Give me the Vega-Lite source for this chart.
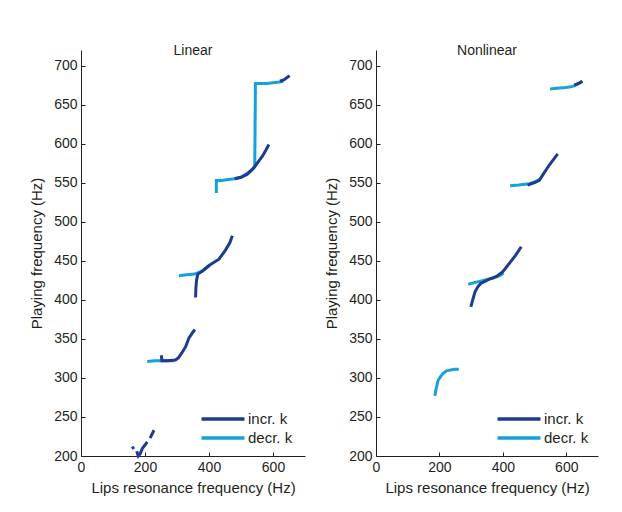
{
  "$schema": "https://vega.github.io/schema/vega-lite/v6.json",
  "padding": {"left": 29, "top": 44, "right": 5, "bottom": 5},
  "spacing": 19,
  "data": {"values": [
    {"p": "Linear", "s": "L1", "k": "decr. k", "i": 1, "x": 423, "y": 537},
    {"p": "Linear", "s": "L1", "k": "decr. k", "i": 2, "x": 423, "y": 553},
    {"p": "Linear", "s": "L1", "k": "decr. k", "i": 3, "x": 440, "y": 553},
    {"p": "Linear", "s": "L1", "k": "decr. k", "i": 4, "x": 460, "y": 554},
    {"p": "Linear", "s": "L1", "k": "decr. k", "i": 5, "x": 480, "y": 555},
    {"p": "Linear", "s": "L1", "k": "decr. k", "i": 6, "x": 500, "y": 557},
    {"p": "Linear", "s": "L1", "k": "decr. k", "i": 7, "x": 520, "y": 562},
    {"p": "Linear", "s": "L1", "k": "decr. k", "i": 8, "x": 535, "y": 567},
    {"p": "Linear", "s": "L1", "k": "decr. k", "i": 9, "x": 543, "y": 571},
    {"p": "Linear", "s": "L1", "k": "decr. k", "i": 10, "x": 544, "y": 620},
    {"p": "Linear", "s": "L1", "k": "decr. k", "i": 11, "x": 545, "y": 677},
    {"p": "Linear", "s": "L1", "k": "decr. k", "i": 12, "x": 560, "y": 677},
    {"p": "Linear", "s": "L1", "k": "decr. k", "i": 13, "x": 580, "y": 677},
    {"p": "Linear", "s": "L1", "k": "decr. k", "i": 14, "x": 600, "y": 678},
    {"p": "Linear", "s": "L1", "k": "decr. k", "i": 15, "x": 620, "y": 679},
    {"p": "Linear", "s": "L1", "k": "decr. k", "i": 16, "x": 632, "y": 680},
    {"p": "Linear", "s": "L4", "k": "decr. k", "i": 1, "x": 306, "y": 431},
    {"p": "Linear", "s": "L4", "k": "decr. k", "i": 2, "x": 330, "y": 432},
    {"p": "Linear", "s": "L4", "k": "decr. k", "i": 3, "x": 355, "y": 433},
    {"p": "Linear", "s": "L4", "k": "decr. k", "i": 4, "x": 375, "y": 436},
    {"p": "Linear", "s": "L4", "k": "decr. k", "i": 5, "x": 392, "y": 441},
    {"p": "Linear", "s": "L4", "k": "decr. k", "i": 6, "x": 402, "y": 444},
    {"p": "Linear", "s": "L5", "k": "decr. k", "i": 1, "x": 207, "y": 321},
    {"p": "Linear", "s": "L5", "k": "decr. k", "i": 2, "x": 230, "y": 322},
    {"p": "Linear", "s": "L5", "k": "decr. k", "i": 3, "x": 260, "y": 322},
    {"p": "Linear", "s": "L5", "k": "decr. k", "i": 4, "x": 290, "y": 322},
    {"p": "Linear", "s": "L2", "k": "incr. k", "i": 1, "x": 622, "y": 680},
    {"p": "Linear", "s": "L2", "k": "incr. k", "i": 2, "x": 635, "y": 682},
    {"p": "Linear", "s": "L2", "k": "incr. k", "i": 3, "x": 645, "y": 685},
    {"p": "Linear", "s": "L2", "k": "incr. k", "i": 4, "x": 652, "y": 687},
    {"p": "Linear", "s": "L3", "k": "incr. k", "i": 1, "x": 480, "y": 555},
    {"p": "Linear", "s": "L3", "k": "incr. k", "i": 2, "x": 500, "y": 557},
    {"p": "Linear", "s": "L3", "k": "incr. k", "i": 3, "x": 520, "y": 561},
    {"p": "Linear", "s": "L3", "k": "incr. k", "i": 4, "x": 540, "y": 569},
    {"p": "Linear", "s": "L3", "k": "incr. k", "i": 5, "x": 556, "y": 578},
    {"p": "Linear", "s": "L3", "k": "incr. k", "i": 6, "x": 567, "y": 584},
    {"p": "Linear", "s": "L3", "k": "incr. k", "i": 7, "x": 578, "y": 592},
    {"p": "Linear", "s": "L3", "k": "incr. k", "i": 8, "x": 587, "y": 599},
    {"p": "Linear", "s": "L6", "k": "incr. k", "i": 1, "x": 358, "y": 403},
    {"p": "Linear", "s": "L6", "k": "incr. k", "i": 2, "x": 359, "y": 415},
    {"p": "Linear", "s": "L6", "k": "incr. k", "i": 3, "x": 361, "y": 425},
    {"p": "Linear", "s": "L6", "k": "incr. k", "i": 4, "x": 365, "y": 433},
    {"p": "Linear", "s": "L6", "k": "incr. k", "i": 5, "x": 380, "y": 437},
    {"p": "Linear", "s": "L6", "k": "incr. k", "i": 6, "x": 400, "y": 444},
    {"p": "Linear", "s": "L6", "k": "incr. k", "i": 7, "x": 431, "y": 452},
    {"p": "Linear", "s": "L6", "k": "incr. k", "i": 8, "x": 452, "y": 464},
    {"p": "Linear", "s": "L6", "k": "incr. k", "i": 9, "x": 465, "y": 473},
    {"p": "Linear", "s": "L6", "k": "incr. k", "i": 10, "x": 473, "y": 482},
    {"p": "Linear", "s": "L7", "k": "incr. k", "i": 1, "x": 251, "y": 329},
    {"p": "Linear", "s": "L7", "k": "incr. k", "i": 2, "x": 253, "y": 322},
    {"p": "Linear", "s": "L7", "k": "incr. k", "i": 3, "x": 270, "y": 322},
    {"p": "Linear", "s": "L7", "k": "incr. k", "i": 4, "x": 295, "y": 323},
    {"p": "Linear", "s": "L7", "k": "incr. k", "i": 5, "x": 305, "y": 326},
    {"p": "Linear", "s": "L7", "k": "incr. k", "i": 6, "x": 315, "y": 332},
    {"p": "Linear", "s": "L7", "k": "incr. k", "i": 7, "x": 327, "y": 340},
    {"p": "Linear", "s": "L7", "k": "incr. k", "i": 8, "x": 337, "y": 351},
    {"p": "Linear", "s": "L7", "k": "incr. k", "i": 9, "x": 347, "y": 357},
    {"p": "Linear", "s": "L7", "k": "incr. k", "i": 10, "x": 356, "y": 362},
    {"p": "Linear", "s": "L8", "k": "incr. k", "i": 1, "x": 160, "y": 212},
    {"p": "Linear", "s": "L8", "k": "incr. k", "i": 2, "x": 165, "y": 209},
    {"p": "Linear", "s": "L9", "k": "incr. k", "i": 1, "x": 174, "y": 206},
    {"p": "Linear", "s": "L9", "k": "incr. k", "i": 2, "x": 179, "y": 200},
    {"p": "Linear", "s": "L9", "k": "incr. k", "i": 3, "x": 185, "y": 203},
    {"p": "Linear", "s": "L9", "k": "incr. k", "i": 4, "x": 192, "y": 210},
    {"p": "Linear", "s": "L9", "k": "incr. k", "i": 5, "x": 200, "y": 214},
    {"p": "Linear", "s": "L9", "k": "incr. k", "i": 6, "x": 207, "y": 218},
    {"p": "Linear", "s": "L10", "k": "incr. k", "i": 1, "x": 216, "y": 223},
    {"p": "Linear", "s": "L10", "k": "incr. k", "i": 2, "x": 222, "y": 228},
    {"p": "Linear", "s": "L10", "k": "incr. k", "i": 3, "x": 228, "y": 233},
    {"p": "Nonlinear", "s": "N1", "k": "decr. k", "i": 1, "x": 549, "y": 670},
    {"p": "Nonlinear", "s": "N1", "k": "decr. k", "i": 2, "x": 570, "y": 671},
    {"p": "Nonlinear", "s": "N1", "k": "decr. k", "i": 3, "x": 589, "y": 671.5},
    {"p": "Nonlinear", "s": "N1", "k": "decr. k", "i": 4, "x": 610, "y": 672.5},
    {"p": "Nonlinear", "s": "N1", "k": "decr. k", "i": 5, "x": 625, "y": 674},
    {"p": "Nonlinear", "s": "N1", "k": "decr. k", "i": 6, "x": 640, "y": 677},
    {"p": "Nonlinear", "s": "N1", "k": "decr. k", "i": 7, "x": 650, "y": 680},
    {"p": "Nonlinear", "s": "N2", "k": "decr. k", "i": 1, "x": 423, "y": 546},
    {"p": "Nonlinear", "s": "N2", "k": "decr. k", "i": 2, "x": 450, "y": 547},
    {"p": "Nonlinear", "s": "N2", "k": "decr. k", "i": 3, "x": 484, "y": 548.7},
    {"p": "Nonlinear", "s": "N2", "k": "decr. k", "i": 4, "x": 500, "y": 551},
    {"p": "Nonlinear", "s": "N2", "k": "decr. k", "i": 5, "x": 516, "y": 554},
    {"p": "Nonlinear", "s": "N3", "k": "decr. k", "i": 1, "x": 291, "y": 420},
    {"p": "Nonlinear", "s": "N3", "k": "decr. k", "i": 2, "x": 310, "y": 422},
    {"p": "Nonlinear", "s": "N3", "k": "decr. k", "i": 3, "x": 330, "y": 424},
    {"p": "Nonlinear", "s": "N3", "k": "decr. k", "i": 4, "x": 350, "y": 426},
    {"p": "Nonlinear", "s": "N3", "k": "decr. k", "i": 5, "x": 370, "y": 428},
    {"p": "Nonlinear", "s": "N3", "k": "decr. k", "i": 6, "x": 390, "y": 431},
    {"p": "Nonlinear", "s": "N3", "k": "decr. k", "i": 7, "x": 402, "y": 434},
    {"p": "Nonlinear", "s": "N4", "k": "decr. k", "i": 1, "x": 185.5, "y": 277},
    {"p": "Nonlinear", "s": "N4", "k": "decr. k", "i": 2, "x": 190, "y": 287},
    {"p": "Nonlinear", "s": "N4", "k": "decr. k", "i": 3, "x": 196, "y": 297},
    {"p": "Nonlinear", "s": "N4", "k": "decr. k", "i": 4, "x": 204, "y": 302},
    {"p": "Nonlinear", "s": "N4", "k": "decr. k", "i": 5, "x": 212, "y": 306},
    {"p": "Nonlinear", "s": "N4", "k": "decr. k", "i": 6, "x": 222, "y": 309},
    {"p": "Nonlinear", "s": "N4", "k": "decr. k", "i": 7, "x": 233, "y": 310},
    {"p": "Nonlinear", "s": "N4", "k": "decr. k", "i": 8, "x": 247, "y": 311},
    {"p": "Nonlinear", "s": "N4", "k": "decr. k", "i": 9, "x": 261, "y": 311},
    {"p": "Nonlinear", "s": "N5", "k": "incr. k", "i": 1, "x": 625, "y": 675},
    {"p": "Nonlinear", "s": "N5", "k": "incr. k", "i": 2, "x": 640, "y": 677.5},
    {"p": "Nonlinear", "s": "N5", "k": "incr. k", "i": 3, "x": 651, "y": 680},
    {"p": "Nonlinear", "s": "N6", "k": "incr. k", "i": 1, "x": 478, "y": 547},
    {"p": "Nonlinear", "s": "N6", "k": "incr. k", "i": 2, "x": 500, "y": 550},
    {"p": "Nonlinear", "s": "N6", "k": "incr. k", "i": 3, "x": 515, "y": 553},
    {"p": "Nonlinear", "s": "N6", "k": "incr. k", "i": 4, "x": 526, "y": 560},
    {"p": "Nonlinear", "s": "N6", "k": "incr. k", "i": 5, "x": 537, "y": 567},
    {"p": "Nonlinear", "s": "N6", "k": "incr. k", "i": 6, "x": 547, "y": 573},
    {"p": "Nonlinear", "s": "N6", "k": "incr. k", "i": 7, "x": 560, "y": 580},
    {"p": "Nonlinear", "s": "N6", "k": "incr. k", "i": 8, "x": 573, "y": 587},
    {"p": "Nonlinear", "s": "N7", "k": "incr. k", "i": 1, "x": 299, "y": 391},
    {"p": "Nonlinear", "s": "N7", "k": "incr. k", "i": 2, "x": 305, "y": 400},
    {"p": "Nonlinear", "s": "N7", "k": "incr. k", "i": 3, "x": 312, "y": 410},
    {"p": "Nonlinear", "s": "N7", "k": "incr. k", "i": 4, "x": 320, "y": 416},
    {"p": "Nonlinear", "s": "N7", "k": "incr. k", "i": 5, "x": 330, "y": 421},
    {"p": "Nonlinear", "s": "N7", "k": "incr. k", "i": 6, "x": 345, "y": 424},
    {"p": "Nonlinear", "s": "N7", "k": "incr. k", "i": 7, "x": 360, "y": 427},
    {"p": "Nonlinear", "s": "N7", "k": "incr. k", "i": 8, "x": 380, "y": 430},
    {"p": "Nonlinear", "s": "N7", "k": "incr. k", "i": 9, "x": 400, "y": 436},
    {"p": "Nonlinear", "s": "N7", "k": "incr. k", "i": 10, "x": 421, "y": 447},
    {"p": "Nonlinear", "s": "N7", "k": "incr. k", "i": 11, "x": 440, "y": 457},
    {"p": "Nonlinear", "s": "N7", "k": "incr. k", "i": 12, "x": 458, "y": 468}
  ]},
  "hconcat": [
    {
      "title": "Linear",
      "width": 224,
      "height": 406,
      "transform": [{"filter": "datum.p === 'Linear'"}],
      "mark": {"type": "line", "strokeWidth": 3},
      "encoding": {
        "x": {"field": "x", "type": "quantitative", "scale": {"domain": [0, 700], "nice": false},
              "axis": {"values": [0, 200, 400, 600], "title": "Lips resonance frequency (Hz)"}},
        "y": {"field": "y", "type": "quantitative", "scale": {"domain": [200, 720], "nice": false, "zero": false},
              "axis": {"values": [200, 250, 300, 350, 400, 450, 500, 550, 600, 650, 700], "title": "Playing frequency (Hz)"}},
        "color": {"field": "k", "type": "nominal",
                  "scale": {"domain": ["incr. k", "decr. k"], "range": ["#1d3c8e", "#16a0dc"]},
                  "legend": {"orient": "none", "legendX": 133, "legendY": 360, "title": null}},
        "detail": {"field": "s"},
        "order": {"field": "i", "type": "quantitative"}
      }
    },
    {
      "title": "Nonlinear",
      "width": 222,
      "height": 406,
      "transform": [{"filter": "datum.p === 'Nonlinear'"}],
      "mark": {"type": "line", "strokeWidth": 3},
      "encoding": {
        "x": {"field": "x", "type": "quantitative", "scale": {"domain": [0, 700], "nice": false},
              "axis": {"values": [0, 200, 400, 600], "title": "Lips resonance frequency (Hz)"}},
        "y": {"field": "y", "type": "quantitative", "scale": {"domain": [200, 720], "nice": false, "zero": false},
              "axis": {"values": [200, 250, 300, 350, 400, 450, 500, 550, 600, 650, 700], "title": "Playing frequency (Hz)"}},
        "color": {"field": "k", "type": "nominal",
                  "scale": {"domain": ["incr. k", "decr. k"], "range": ["#1d3c8e", "#16a0dc"]},
                  "legend": {"orient": "none", "legendX": 134, "legendY": 360, "title": null}},
        "detail": {"field": "s"},
        "order": {"field": "i", "type": "quantitative"}
      }
    }
  ],
  "resolve": {"legend": {"color": "independent"}},
  "config": {
    "font": "Liberation Sans",
    "view": {"stroke": null},
    "title": {"fontSize": 14, "fontWeight": "normal", "color": "#231f20", "anchor": "middle", "offset": -8, "font": "Liberation Sans"},
    "axis": {
      "grid": false,
      "domainColor": "#231f20",
      "domainWidth": 1,
      "tickColor": "#231f20",
      "tickSize": -4,
      "tickWidth": 1,
      "labelFontSize": 14,
      "labelColor": "#231f20",
      "labelFont": "Liberation Sans",
      "titleFontSize": 15,
      "titleFontWeight": "normal",
      "titleColor": "#231f20",
      "titleFont": "Liberation Sans"
    },
    "axisX": {"labelPadding": 8, "titlePadding": 6, "labelFlush": false},
    "axisY": {"labelPadding": 8, "titlePadding": 9, "labelFlush": false},
    "legend": {
      "symbolType": "M-3,0H3",
      "symbolSize": 205,
      "symbolStrokeWidth": 3.5,
      "labelFontSize": 15,
      "labelColor": "#231f20",
      "labelFont": "Liberation Sans",
      "labelOffset": 16,
      "rowPadding": 2,
      "padding": 0
    }
  }
}
